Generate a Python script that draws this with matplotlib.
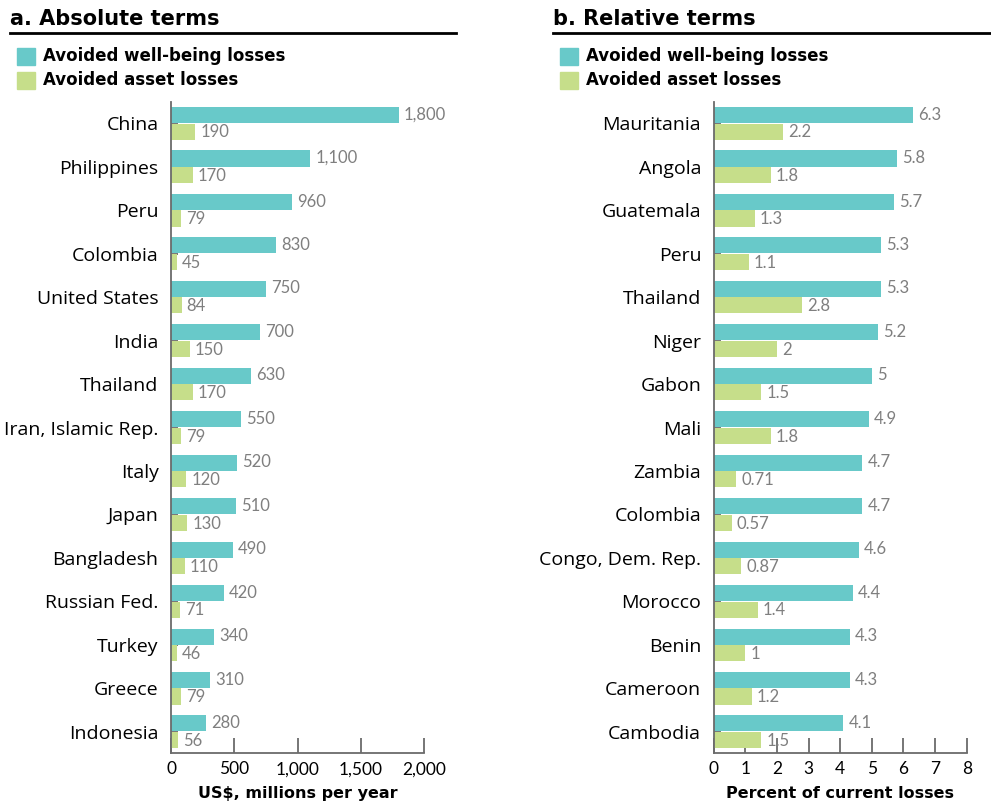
import matplotlib
matplotlib.use("Agg")
import matplotlib.pyplot as plt
from matplotlib.patches import Rectangle
from matplotlib.lines import Line2D

plt.rcParams['font.family'] = ['Lato', 'DejaVu Sans']

# panel a: absolute terms (US$ millions per year)
abs_countries = ["China", "Philippines", "Peru", "Colombia", "United States", "India",
                 "Thailand", "Iran, Islamic Rep.", "Italy", "Japan", "Bangladesh",
                 "Russian Fed.", "Turkey", "Greece", "Indonesia"]
abs_wellbeing = [1800, 1100, 960, 830, 750, 700, 630, 550, 520, 510, 490, 420, 340, 310, 280]
abs_asset = [190, 170, 79, 45, 84, 150, 170, 79, 120, 130, 110, 71, 46, 79, 56]
abs_ticks = [0, 500, 1000, 1500, 2000]

# panel b: relative terms (percent of current losses)
rel_countries = ["Mauritania", "Angola", "Guatemala", "Peru", "Thailand", "Niger", "Gabon",
                 "Mali", "Zambia", "Colombia", "Congo, Dem. Rep.", "Morocco", "Benin",
                 "Cameroon", "Cambodia"]
rel_wellbeing = [6.3, 5.8, 5.7, 5.3, 5.3, 5.2, 5, 4.9, 4.7, 4.7, 4.6, 4.4, 4.3, 4.3, 4.1]
rel_asset = [2.2, 1.8, 1.3, 1.1, 2.8, 2, 1.5, 1.8, 0.71, 0.57, 0.87, 1.4, 1, 1.2, 1.5]
rel_ticks = [0, 1, 2, 3, 4, 5, 6, 7, 8]

TEAL = "#68c9c9"
GREEN = "#c6de8a"
GREY = "#7f7f7f"
AXC = "#6b6b6b"
BOLD = ['DejaVu Sans']
CAT = ['Open Sans', 'DejaVu Sans']

fig = plt.figure(figsize=(9.91, 8.07), dpi=100)


def panel(x0, countries, wb, asset, ticks, fmt, xlabel, title, title_x, line_x1, xoff):
    ax = fig.add_axes([x0, 0.0669, 0.2553, 0.8067])
    n = len(countries)
    ys = list(range(n))
    h = 0.37
    ax.barh([y - 0.19 for y in ys], wb, height=h, color=TEAL, zorder=2)
    ax.barh([y + 0.19 for y in ys], asset, height=h, color=GREEN, zorder=2)
    for y, v in zip(ys, wb):
        ax.text(v + xoff, y - 0.2, fmt(v), va='center', ha='left', fontsize=12, color=GREY)
    for y, v in zip(ys, asset):
        ax.text(v + xoff, y + 0.21, fmt(v), va='center', ha='left', fontsize=12, color=GREY)
    ax.set_ylim(n - 0.51, -0.49)
    ax.set_xlim(ticks[0], ticks[-1])
    ax.set_yticks(ys)
    ax.set_yticklabels(countries, fontsize=14, family=CAT)
    ax.set_xticks(ticks)
    ax.set_xticklabels([fmt(t) for t in ticks], fontsize=12.5)
    ax.tick_params(axis='x', direction='in', length=11, width=1.3, color=AXC, pad=6)
    ax.tick_params(axis='y', direction='in', length=5, width=1.3, color=AXC, pad=9)
    for s in ['top', 'right']:
        ax.spines[s].set_visible(False)
    for s in ['left', 'bottom']:
        ax.spines[s].set_color(AXC)
        ax.spines[s].set_linewidth(1.3)
    ax.set_xlabel(xlabel, fontsize=11.5, fontweight='bold', family=BOLD, labelpad=6)

    # title and rule
    fig.text(title_x, 0.977, title, fontsize=15, fontweight='bold', family=BOLD,
             ha='left', va='center')
    fig.add_artist(Line2D([title_x, line_x1], [0.959, 0.959], color='black', lw=2))
    # legend
    lx = title_x + 0.007
    for i, (c, lab) in enumerate([(TEAL, "Avoided well-being losses"), (GREEN, "Avoided asset losses")]):
        yc = 0.930 - i * 0.0295
        fig.add_artist(Rectangle((lx, yc - 0.0105), 0.0185, 0.021, color=c, transform=fig.transFigure))
        fig.text(lx + 0.026, yc, lab, fontsize=12, fontweight='bold', family=BOLD,
                 ha='left', va='center')
    return ax


panel(0.1726, abs_countries, abs_wellbeing, abs_asset, abs_ticks,
      lambda v: f"{v:,}", "US$, millions per year", "a. Absolute terms", 0.010, 0.460, 40)
panel(0.7202, rel_countries, rel_wellbeing, rel_asset, rel_ticks,
      lambda v: f"{v:g}", "Percent of current losses", "b. Relative terms", 0.558, 1.0, 0.16)

fig.savefig("out.png", dpi=100)
